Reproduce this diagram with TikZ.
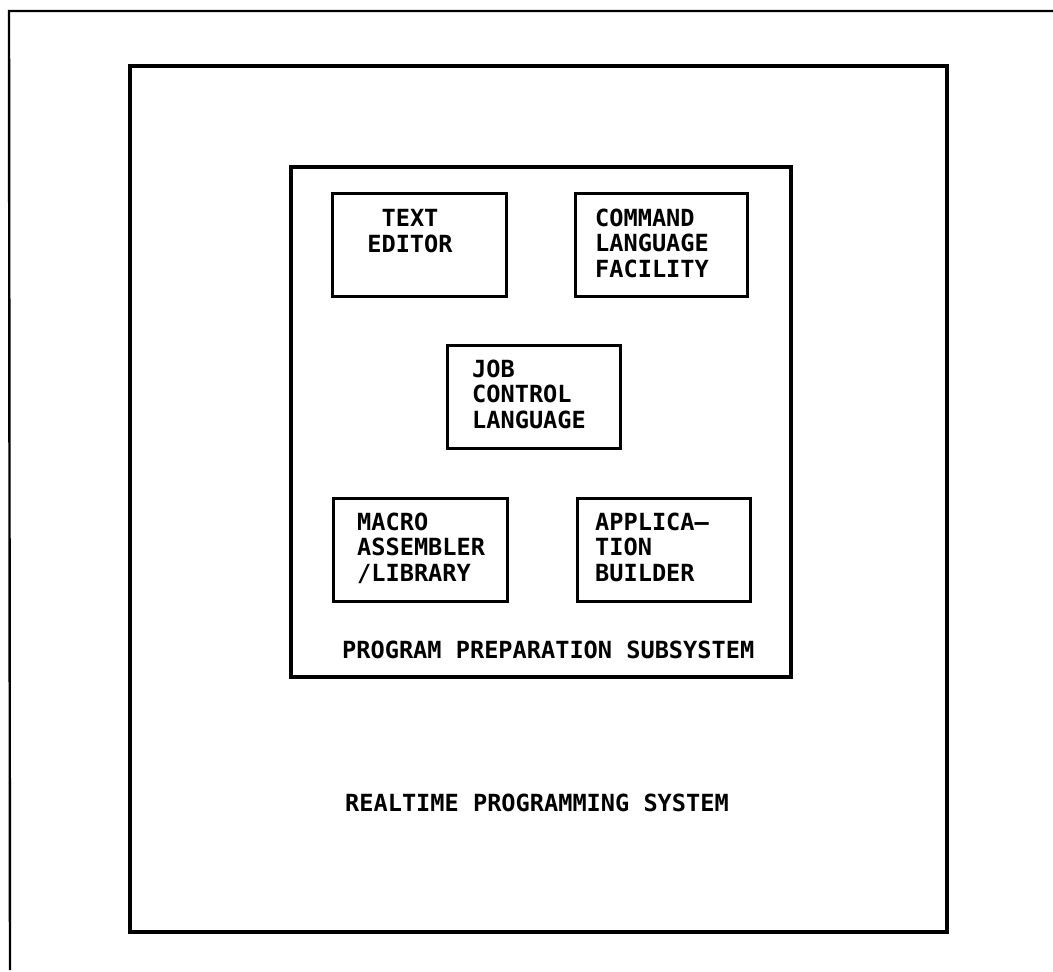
\documentclass[tikz,border=0pt]{standalone}
\usepackage{fontspec}
\newfontfamily\lettering{DejaVu Sans Mono}
\begin{document}
\begin{tikzpicture}[x=1pt,y=-1pt,
  frameline/.style={line width=2.4pt},
  bigbox/.style={draw,line width=3.2pt,inner sep=0pt},
  compbox/.style={draw,line width=3pt,inner sep=0pt,rectangle},
  lbl/.style={inner sep=0pt,font=\lettering\bfseries\fontsize{23.6}{25.5}\selectfont}
]
\useasboundingbox (0,0) rectangle (1053,972);
% page frame (top and left edges)
\coordinate (ftr) at (1053,11);
\coordinate (ftl) at (9,11);
\coordinate (fbl) at (10,970);
\draw[frameline] (ftr) -- (ftl) -- (fbl);
% realtime programming system box
\node[bigbox,minimum width=817pt,minimum height=866pt] (rps) at (538.5,499) {};
% program preparation subsystem box
\node[bigbox,minimum width=500pt,minimum height=510pt] (pps) at (541,422) {};
% component boxes
\node[compbox,minimum width=174pt,minimum height=103pt] (ted) at (419,244.5) {};
\node[compbox,minimum width=172pt,minimum height=103pt] (cmd) at (661,244.5) {};
\node[compbox,minimum width=173pt,minimum height=103pt] (job) at (533.5,396.5) {};
\node[compbox,minimum width=174pt,minimum height=103pt] (mac) at (420,549.5) {};
\node[compbox,minimum width=173pt,minimum height=103pt] (app) at (663.5,549.5) {};
% labels (anchor base = baseline of the last line)
\node[lbl,anchor=base,align=center] (tedl) at (410,252) {TEXT\\EDITOR};
\node[lbl,anchor=base west,align=left] (cmdl) at (595,277) {COMMAND\\LANGUAGE\\FACILITY};
\node[lbl,anchor=base west,align=left] (jobl) at (472,428) {JOB\\CONTROL\\LANGUAGE};
\node[lbl,anchor=base west,align=left] (macl) at (357,581) {MACRO\\ASSEMBLER\\/LIBRARY};
\node[lbl,anchor=base west,align=left] (appl) at (595,581) {APPLICA–\\TION\\BUILDER};
\node[lbl,anchor=base west] (ppsl) at (342,658) {PROGRAM PREPARATION SUBSYSTEM};
\node[lbl,anchor=base] (rpsl) at (537,811) {REALTIME PROGRAMMING SYSTEM};
\end{tikzpicture}
\end{document}
